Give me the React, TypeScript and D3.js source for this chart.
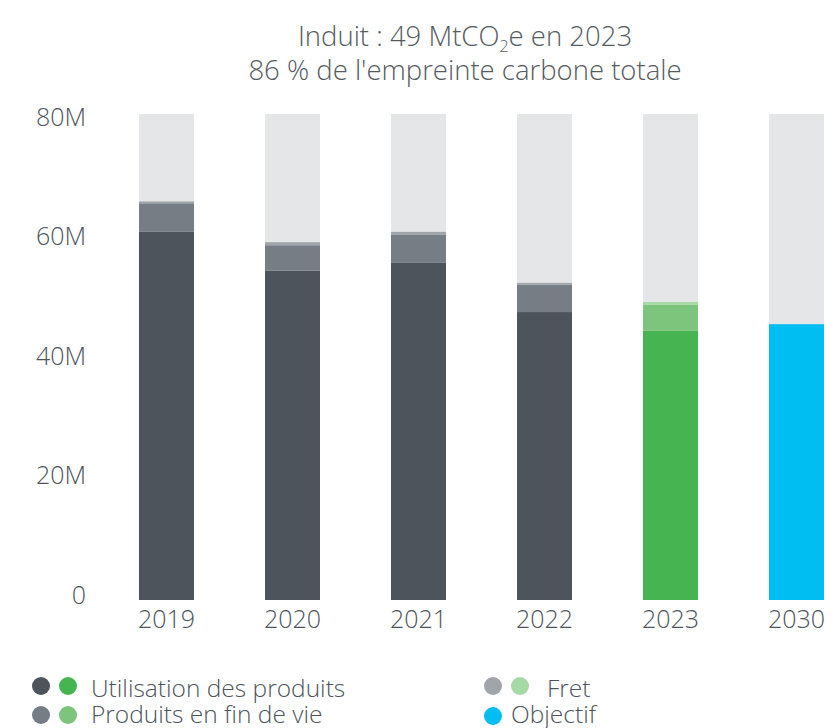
import React from "react";
import * as d3 from "d3";

const years = ["2019", "2020", "2021", "2022", "2023", "2030"];
const utilisation = [60.6, 54.2, 55.5, 47.4, 44.3, 0];
const finDeVie = [4.7, 4.2, 4.6, 4.5, 4.3, 0];
const fret = [0.3, 0.5, 0.5, 0.3, 0.45, 0];
const objectif = [0, 0, 0, 0, 0, 45.4];
const yTicks = [0, 20, 40, 60, 80];
const yMax = 80;

const GREY = ["#4d545c", "#767d85", "#a0a5aa"];
const GREEN = ["#46b450", "#7dc47c", "#a6d9a4"];
const BLUE = "#00bdf2";
const BG = "#e5e6e8";
const TEXT = "#4d545c";
const FONT = "'Open Sans', Roboto, 'Liberation Sans', sans-serif";

export default function App() {
  const W = 831, H = 728;
  const x = d3.scaleBand().domain(years).range([139, 824]).paddingInner(71 / 126).paddingOuter(0);
  const y = d3.scaleLinear().domain([0, yMax]).range([600, 114]);
  const yLab = d3.scaleLinear().domain([0, yMax]).range([595, 116.7]);
  const bw = x.bandwidth();

  return (
    <svg width={W} height={H} style={{ position: "absolute", left: 0, top: 0, fontFamily: FONT }}>
      <g fontSize={27.5} fontWeight={300} fill="#555b61" textAnchor="middle">
        <text x={465} y={46}>
          Induit : 49 MtCO<tspan fontSize={16} dy={6}>2</tspan><tspan dy={-6}>e en 2023</tspan>
        </text>
        <text x={465} y={80}>86 % de l'empreinte carbone totale</text>
      </g>
      {yTicks.map((t) => (
        <text key={t} x={86} y={yLab(t) + 9} textAnchor="end" fontSize={25} fontWeight={300} fill={TEXT}>
          {t === 0 ? "0" : `${t}M`}
        </text>
      ))}
      {years.map((yr, i) => {
        const x0 = x(yr) as number;
        const pal = yr === "2023" ? GREEN : GREY;
        const segs = [utilisation[i], finDeVie[i], fret[i]];
        let acc = 0;
        return (
          <g key={yr}>
            <rect x={x0} y={y(yMax)} width={bw} height={y(0) - y(yMax)} fill={BG} />
            {segs.map((v, k) => {
              const y1 = y(acc + v);
              const y0 = y(acc);
              acc += v;
              return v > 0 ? <rect key={k} x={x0} y={y1} width={bw} height={y0 - y1} fill={pal[k]} /> : null;
            })}
            {objectif[i] > 0 && (
              <rect x={x0} y={y(objectif[i])} width={bw} height={y(0) - y(objectif[i])} fill={BLUE} />
            )}
            <text x={x0 + bw / 2} y={628} textAnchor="middle" fontSize={25} fontWeight={300} fill={TEXT}>
              {yr}
            </text>
          </g>
        );
      })}
      <g fontSize={24.5} fontWeight={300} fill={TEXT}>
        <circle cx={41} cy={686} r={9} fill={GREY[0]} />
        <circle cx={68} cy={686} r={9} fill={GREEN[0]} />
        <text x={91} y={697}>Utilisation des produits</text>
        <circle cx={41} cy={715} r={9} fill={GREY[1]} />
        <circle cx={68} cy={715} r={9} fill={GREEN[1]} />
        <text x={91} y={723}>Produits en fin de vie</text>
        <circle cx={493} cy={686} r={9} fill={GREY[2]} />
        <circle cx={520} cy={686} r={9} fill={GREEN[2]} />
        <text x={547} y={697}>Fret</text>
        <circle cx={493} cy={716} r={9} fill={BLUE} />
        <text x={511} y={723}>Objectif</text>
      </g>
    </svg>
  );
}
